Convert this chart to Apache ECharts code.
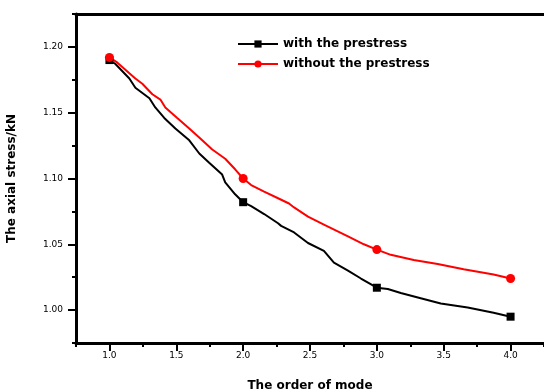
<!DOCTYPE html>
<html lang="en">
<head>
    <meta charset="UTF-8">
    <title>Axial stress vs mode order</title>
    <style>
        * { margin: 0; padding: 0; box-sizing: border-box; }
        body { background: #fff; }
        #chart { width: 544px; height: 390px; }
    </style>
</head>
<body>
    <div id="chart"></div>

    <script src="https://cdn.jsdelivr.net/npm/echarts@6/dist/echarts.min.js"></script>
    <script>
        // Data
        const seriesNames = ['with the prestress', 'without the prestress'];
        const withX = [1.000, 1.045, 1.149, 1.194, 1.299, 1.343, 1.410, 1.493, 1.597, 1.672, 1.746, 1.843, 1.866, 1.940,
            2.000, 2.060, 2.157, 2.261, 2.284, 2.381, 2.485, 2.604, 2.679, 2.784, 2.881,
            3.000, 3.082, 3.179, 3.328, 3.478, 3.679, 3.873, 4.000];
        const withY = [1.190, 1.187, 1.176, 1.169, 1.161, 1.154, 1.146, 1.138, 1.129, 1.119, 1.112, 1.103, 1.097, 1.088,
            1.082, 1.079, 1.073, 1.066, 1.064, 1.059, 1.051, 1.045, 1.036, 1.030, 1.024,
            1.017, 1.016, 1.013, 1.009, 1.005, 1.002, 0.998, 0.995];
        const withoutX = [1.000, 1.060, 1.149, 1.194, 1.246, 1.321, 1.381, 1.418, 1.507, 1.597, 1.694, 1.769, 1.866, 1.940,
            2.000, 2.060, 2.157, 2.261, 2.343, 2.381, 2.485, 2.604, 2.784, 2.903,
            3.000, 3.104, 3.276, 3.455, 3.649, 3.873, 4.000];
        const withoutY = [1.192, 1.188, 1.180, 1.176, 1.172, 1.164, 1.160, 1.154, 1.146, 1.138, 1.129, 1.122, 1.115, 1.107,
            1.100, 1.095, 1.090, 1.085, 1.081, 1.078, 1.071, 1.065, 1.056, 1.050,
            1.046, 1.042, 1.038, 1.035, 1.031, 1.027, 1.024];
        const xTicks = [1.0, 1.5, 2.0, 2.5, 3.0, 3.5, 4.0];
        const yTicks = [1.00, 1.05, 1.10, 1.15, 1.20];

        const font = 'DejaVu Sans';
        const zip = (xs, ys) => xs.map((x, i) => [x, ys[i]]);
        const markerSize = size => v => (Number.isInteger(v[0]) ? size : 0);

        const chart = echarts.init(document.getElementById('chart'));
        chart.setOption({
            animation: false,
            grid: { left: 76, right: 0, top: 14, bottom: 47, outerBoundsMode: 'none' },
            legend: {
                orient: 'vertical',
                left: 232,
                top: 33,
                itemWidth: 40,
                itemHeight: 9,
                itemGap: 8,
                textStyle: { fontFamily: font, fontSize: 12, fontWeight: 'bold', color: '#000' },
                data: seriesNames
            },
            xAxis: [
                {
                    type: 'value', min: 0.75, max: 4.25, interval: 0.25,
                    axisLine: { lineStyle: { color: '#000', width: 3 } },
                    axisTick: { length: 4, lineStyle: { color: '#000', width: 2 } },
                    axisLabel: { show: false },
                    splitLine: { show: false }
                },
                {
                    type: 'value', min: 0.75, max: 4.25, position: 'bottom',
                    axisLine: { show: false },
                    axisTick: { length: 8, customValues: xTicks, lineStyle: { color: '#000', width: 2 } },
                    axisLabel: {
                        customValues: xTicks, margin: 8,
                        fontFamily: font, fontSize: 9, color: '#000',
                        formatter: v => v.toFixed(1)
                    },
                    splitLine: { show: false },
                    name: 'The order of mode',
                    nameLocation: 'middle',
                    nameGap: 37,
                    nameTextStyle: { fontFamily: font, fontSize: 12, fontWeight: 'bold', color: '#000' }
                },
                {
                    type: 'value', min: 0.75, max: 4.25, position: 'top',
                    axisLine: { lineStyle: { color: '#000', width: 3 } },
                    axisTick: { show: false },
                    axisLabel: { show: false },
                    splitLine: { show: false }
                }
            ],
            yAxis: [
                {
                    type: 'value', min: 0.975, max: 1.225, interval: 0.025,
                    axisLine: { show: true, lineStyle: { color: '#000', width: 3 } },
                    axisTick: { show: true, length: 4, lineStyle: { color: '#000', width: 2 } },
                    axisLabel: { show: false },
                    splitLine: { show: false }
                },
                {
                    type: 'value', min: 0.975, max: 1.225, position: 'left',
                    axisLine: { show: false },
                    axisTick: { show: true, length: 8, customValues: yTicks, lineStyle: { color: '#000', width: 2 } },
                    axisLabel: {
                        customValues: yTicks, margin: 13,
                        fontFamily: font, fontSize: 9, color: '#000',
                        formatter: v => v.toFixed(2)
                    },
                    splitLine: { show: false },
                    name: 'The axial stress/kN',
                    nameLocation: 'middle',
                    nameGap: 58,
                    nameTextStyle: { fontFamily: font, fontSize: 12, fontWeight: 'bold', color: '#000' }
                }
            ],
            series: [
                {
                    name: seriesNames[0],
                    type: 'line',
                    data: zip(withX, withY),
                    symbol: 'rect',
                    symbolSize: markerSize(8),
                    showAllSymbol: true,
                    lineStyle: { color: '#000', width: 2 },
                    itemStyle: { color: '#000' }
                },
                {
                    name: seriesNames[1],
                    type: 'line',
                    data: zip(withoutX, withoutY),
                    symbol: 'circle',
                    symbolSize: markerSize(9),
                    showAllSymbol: true,
                    lineStyle: { color: '#ff0000', width: 2 },
                    itemStyle: { color: '#ff0000' }
                }
            ]
        });
    </script>
</body>
</html>
